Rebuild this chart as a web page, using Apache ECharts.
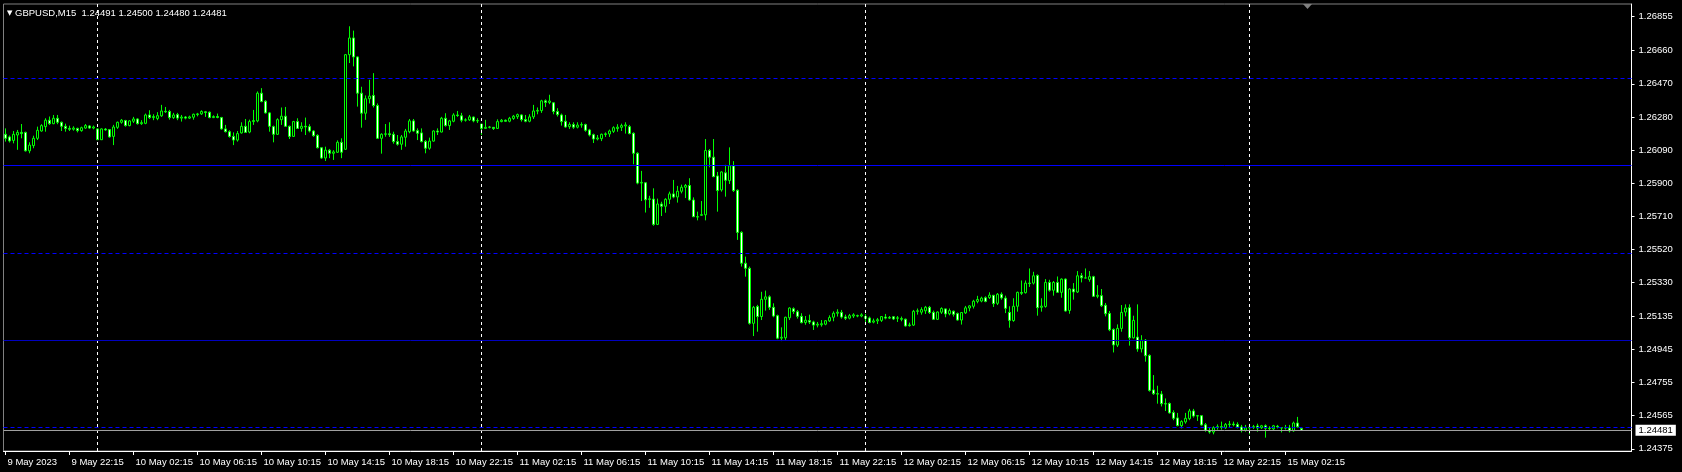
<!DOCTYPE html>
<html>
<head>
<meta charset="utf-8">
<script src="https://cdn.jsdelivr.net/npm/echarts@6/dist/echarts.min.js"></script>
<style>
html,body{margin:0;padding:0;background:#000;}
#chart{width:1682px;height:472px;}
</style>
</head>
<body>
<div id="chart"></div>
<script>
// ---- data (prices stored as points above 1.20000, i.e. 6180 -> 1.26180) ----
const symbol = 'GBPUSD,M15';
const firstBarTime = '2023-05-09T18:15:00Z';

const openPts = [
6180,6165,6145,6176,6191,6191,6085,6115,6157,6199,
6224,6261,6241,6272,6249,6226,6214,6209,6214,6201,
6216,6228,6216,6211,6149,6210,6207,6168,6220,6249,
6259,6230,6255,6268,6241,6243,6291,6276,6271,6286,
6312,6311,6276,6293,6273,6279,6273,6278,6293,6297,
6309,6307,6276,6282,6276,6211,6195,6168,6147,6188,
6226,6193,6253,6257,6416,6370,6303,6224,6180,6264,
6284,6226,6168,6253,6214,6226,6224,6199,6174,6103,
6044,6089,6071,6077,6134,6094,6637,6733,6624,6416,
6301,6384,6403,6345,6157,6180,6183,6180,6138,6123,
6163,6195,6257,6201,6188,6139,6100,6141,6199,6193,
6272,6230,6255,6291,6286,6261,6263,6279,6257,6238,
6214,6220,6220,6214,6253,6261,6255,6271,6281,6291,
6265,6255,6280,6313,6316,6372,6363,6361,6311,6291,
6255,6224,6236,6221,6233,6236,6205,6178,6153,6155,
6179,6182,6197,6213,6220,6228,6224,6186,6071,5900,
5902,5806,5808,5663,5780,5767,5807,5838,5820,5853,
5876,5886,5803,5707,5715,5718,6087,6049,5941,5861,
5959,5914,5999,5859,5617,5440,5411,5095,5191,5134,
5233,5247,5187,5139,5010,5012,5127,5179,5162,5135,
5100,5111,5103,5085,5087,5090,5109,5130,5153,5158,
5132,5125,5137,5139,5137,5134,5126,5102,5109,5112,
5131,5125,5133,5124,5122,5119,5082,5085,5164,5159,
5167,5187,5158,5118,5159,5178,5150,5165,5151,5114,
5155,5183,5193,5221,5223,5242,5243,5256,5210,5262,
5240,5158,5111,5193,5272,5271,5326,5326,5370,5187,
5192,5330,5285,5330,5273,5349,5169,5292,5275,5368,
5355,5347,5363,5250,5254,5199,5152,5060,4970,5066,
5160,5185,5012,5016,4948,4998,4911,4713,4691,4689,
4634,4635,4583,4552,4508,4529,4548,4592,4563,4565,
4513,4480,4471,4497,4502,4496,4514,4517,4515,4500,
4482,4495,4498,4506,4496,4507,4493,4489,4504,4496,
4494,4494,4478,4523,4491
];
const closePts = [
6157,6142,6180,6191,6184,6085,6118,6157,6203,6230,
6261,6241,6272,6249,6226,6214,6209,6216,6201,6218,
6230,6216,6222,6149,6211,6205,6165,6222,6249,6261,
6230,6257,6268,6241,6247,6291,6276,6282,6287,6314,
6309,6276,6291,6273,6279,6273,6280,6295,6297,6311,
6305,6276,6282,6277,6211,6195,6168,6147,6184,6226,
6191,6253,6259,6416,6368,6303,6226,6180,6264,6284,
6226,6168,6253,6214,6226,6222,6199,6172,6103,6044,
6089,6071,6079,6134,6077,6637,6733,6624,6416,6301,
6384,6399,6345,6157,6180,6183,6178,6138,6123,6165,
6199,6257,6199,6186,6138,6100,6141,6199,6193,6272,
6230,6257,6291,6288,6261,6263,6280,6257,6259,6214,
6220,6222,6213,6253,6261,6255,6272,6284,6293,6264,
6255,6280,6314,6317,6372,6363,6371,6311,6293,6253,
6222,6236,6221,6233,6236,6203,6176,6153,6159,6180,
6183,6199,6218,6221,6230,6234,6184,6071,5900,5904,
5804,5810,5663,5780,5767,5807,5838,5820,5853,5876,
5886,5803,5707,5705,5719,6087,6049,5937,5857,5964,
5916,5999,5857,5617,5440,5411,5095,5187,5134,5233,
5247,5187,5137,5010,5015,5130,5183,5163,5135,5099,
5113,5102,5085,5090,5093,5110,5128,5153,5159,5131,
5124,5139,5144,5137,5144,5124,5100,5109,5116,5134,
5125,5129,5120,5127,5119,5080,5086,5164,5167,5174,
5187,5157,5118,5160,5180,5149,5168,5147,5114,5157,
5184,5195,5222,5232,5240,5221,5257,5208,5262,5241,
5181,5112,5193,5273,5268,5326,5324,5368,5185,5194,
5330,5285,5330,5273,5349,5166,5292,5275,5368,5356,
5356,5363,5250,5256,5196,5150,5058,4971,5066,5158,
5183,5012,5112,4948,4998,4909,4710,4691,4689,4634,
4632,4581,4550,4508,4531,4550,4592,4563,4565,4512,
4481,4471,4496,4502,4498,4514,4517,4513,4500,4482,
4495,4498,4502,4494,4507,4493,4491,4507,4500,4494,
4496,4478,4523,4501,4481
];
const lowPts = [
6138,6133,6128,6091,6157,6081,6071,6100,6147,6195,
6195,6234,6238,6238,6199,6195,6199,6201,6191,6195,
6211,6211,6209,6147,6147,6201,6161,6118,6211,6241,
6224,6226,6245,6236,6234,6238,6268,6261,6261,6280,
6303,6264,6268,6261,6253,6266,6268,6264,6283,6291,
6280,6272,6273,6272,6207,6191,6161,6118,6138,6184,
6188,6186,6234,6249,6364,6299,6195,6134,6176,6234,
6222,6153,6165,6211,6195,6176,6191,6166,6099,6039,
6027,6043,6033,6073,6043,6091,6589,6570,6339,6218,
6263,6357,6334,6153,6069,6166,6165,6126,6115,6091,
6109,6186,6195,6147,6134,6071,6091,6138,6176,6191,
6224,6205,6249,6280,6249,6253,6257,6249,6245,6176,
6211,6214,6205,6211,6249,6251,6249,6263,6268,6253,
6249,6249,6268,6295,6303,6337,6353,6295,6282,6230,
6218,6211,6211,6214,6218,6195,6168,6130,6145,6141,
6165,6165,6188,6195,6199,6184,6180,6008,5893,5797,
5731,5758,5655,5659,5711,5730,5780,5813,5788,5841,
5814,5799,5705,5686,5711,5686,5991,5934,5736,5851,
5822,5895,5849,5574,5421,5363,5088,5022,5047,5114,
5168,5172,5130,5004,4993,5000,5114,5149,5122,5095,
5087,5091,5057,5072,5076,5084,5103,5107,5134,5122,
5114,5118,5126,5130,5130,5103,5095,5095,5091,5103,
5118,5120,5114,5103,5107,5076,5076,5080,5145,5145,
5149,5149,5114,5114,5149,5130,5141,5134,5111,5088,
5149,5164,5180,5210,5216,5216,5235,5189,5200,5231,
5154,5070,5104,5162,5258,5266,5304,5318,5139,5162,
5185,5277,5254,5269,5242,5162,5150,5231,5269,5330,
5353,5334,5246,5239,5189,5135,5050,4928,4959,5047,
5135,4967,5008,4932,4928,4875,4703,4684,4634,4618,
4592,4577,4539,4504,4492,4519,4539,4554,4535,4508,
4473,4462,4458,4485,4485,4489,4496,4504,4492,4469,
4473,4458,4489,4473,4489,4439,4481,4481,4492,4469,
4485,4469,4473,4496,4480
];
const highPts = [
6214,6173,6199,6205,6239,6195,6134,6172,6224,6238,
6272,6282,6291,6291,6253,6241,6230,6226,6218,6224,
6239,6233,6230,6214,6214,6216,6209,6234,6253,6268,
6263,6261,6280,6272,6261,6299,6318,6295,6307,6349,
6337,6320,6303,6303,6291,6285,6287,6299,6303,6318,
6314,6311,6289,6299,6280,6234,6203,6191,6199,6249,
6268,6264,6320,6426,6445,6376,6307,6230,6272,6334,
6337,6230,6257,6272,6249,6276,6238,6203,6180,6105,
6109,6096,6089,6145,6157,6641,6800,6775,6627,6453,
6403,6493,6531,6357,6186,6239,6249,6195,6176,6176,
6211,6268,6268,6214,6214,6147,6161,6203,6214,6280,
6301,6263,6301,6314,6303,6272,6291,6282,6272,6241,
6263,6228,6222,6266,6268,6265,6280,6291,6299,6295,
6291,6295,6349,6334,6378,6380,6407,6365,6330,6299,
6291,6249,6249,6249,6249,6241,6211,6184,6176,6184,
6191,6207,6226,6238,6241,6249,6234,6191,6077,5970,
5904,5827,5870,5811,5793,5813,5851,5918,5884,5891,
5895,5928,5818,5736,5797,6153,6095,6153,5964,5968,
6005,6105,6026,5864,5624,5478,5421,5195,5201,5276,
5283,5256,5210,5145,5072,5133,5187,5187,5172,5153,
5137,5145,5110,5103,5114,5114,5141,5164,5176,5172,
5145,5149,5153,5145,5153,5149,5134,5122,5126,5137,
5149,5137,5137,5137,5134,5122,5099,5172,5180,5187,
5195,5195,5168,5164,5187,5180,5180,5168,5157,5160,
5195,5199,5230,5253,5248,5250,5273,5258,5269,5273,
5254,5193,5239,5277,5341,5341,5410,5391,5376,5239,
5349,5345,5338,5364,5353,5353,5296,5326,5395,5384,
5410,5395,5368,5314,5292,5212,5166,5066,5089,5200,
5204,5204,5139,5204,5027,5005,4917,4798,4737,4707,
4664,4641,4596,4581,4539,4581,4604,4604,4569,4566,
4523,4496,4504,4515,4531,4523,4535,4531,4527,4512,
4512,4519,4512,4519,4512,4515,4504,4512,4512,4500,
4512,4512,4531,4558,4500
];

// right price-scale tick labels
const priceTicks = [1.26855,1.26660,1.26470,1.26280,1.26090,1.25900,1.25710,1.25520,1.25330,1.25135,1.24945,1.24755,1.24565,1.24375];
// horizontal levels drawn on the chart
const dashedLevels = [1.26500, 1.25500, 1.24500];
const solidLevels = [1.26000, 1.25000];
const solidColors = ['#0000ff', '#0000c0'];
const monthNames = ['Jan','Feb','Mar','Apr','May','Jun','Jul','Aug','Sep','Oct','Nov','Dec'];

// ---- build ----
const toPrice = v => (120000 + v) / 100000;
const nBars = openPts.length;
const totalSlots = 407;           // visible bar slots incl. chart shift area
const pad2 = n => (n < 10 ? '0' : '') + n;

const times = [];
let t = Date.parse(firstBarTime);
while (times.length < nBars) {
  const d = new Date(t);
  const wd = d.getUTCDay();
  if (wd !== 0 && wd !== 6) times.push(d);
  t += 15 * 60000;
}
const cats = times.map((d, i) => i === 0
  ? d.getUTCDate() + ' ' + monthNames[d.getUTCMonth()] + ' ' + d.getUTCFullYear()
  : d.getUTCDate() + ' ' + monthNames[d.getUTCMonth()] + ' ' + pad2(d.getUTCHours()) + ':' + pad2(d.getUTCMinutes()));
while (cats.length < totalSlots) cats.push('');

const candles = openPts.map((o, i) => [toPrice(o), toPrice(closePts[i]), toPrice(lowPts[i]), toPrice(highPts[i])]);
const last = candles[nBars - 1];

const separators = [];
times.forEach((d, i) => { if (d.getUTCHours() === 0 && d.getUTCMinutes() === 0) separators.push(cats[i]); });

const FONT = 'Liberation Sans';
const markData = [];
separators.forEach(c => markData.push({ xAxis: c, lineStyle: { color: '#ffffff', type: [3, 3], width: 1 }, label: { show: false } }));
dashedLevels.forEach(v => markData.push({ yAxis: v, lineStyle: { color: '#0000ff', type: [4, 3], width: 1 }, label: { show: false } }));
solidLevels.forEach((v, k) => markData.push({ yAxis: v, lineStyle: { color: solidColors[k], type: 'solid', width: 1 }, label: { show: false } }));
markData.push({
  yAxis: last[1],
  lineStyle: { color: '#a0a0a0', type: 'solid', width: 1 },
  label: { show: true, position: 'end', distance: 4, formatter: last[1].toFixed(5),
           backgroundColor: '#ffffff', color: '#000000', fontSize: 9.5, fontFamily: FONT, padding: [1, 3, 0, 3] }
});

const chart = echarts.init(document.getElementById('chart'), null, { renderer: 'canvas' });
chart.setOption({
  backgroundColor: '#000000',
  animation: false,
  title: {
    text: '{tri|▼} ' + symbol + '  ' + last[0].toFixed(5) + ' ' + last[3].toFixed(5) + ' ' + last[2].toFixed(5) + ' ' + last[1].toFixed(5),
    left: 7, top: 8, padding: 0,
    textStyle: { color: '#ffffff', fontSize: 9.5, fontWeight: 'normal', fontFamily: FONT,
      rich: { tri: { fontSize: 7, color: '#ffffff', fontFamily: 'DejaVu Sans' } } }
  },
  grid: { left: 3.5, top: 4, width: 4 * totalSlots, height: 447, show: true, borderColor: '#808080', borderWidth: 1, backgroundColor: '#000000' },
  xAxis: {
    type: 'category', data: cats, boundaryGap: true,
    axisLine: { show: true, lineStyle: { color: '#ffffff', width: 1 } },
    axisTick: { show: true, alignWithLabel: true, length: 4, lineStyle: { color: '#ffffff' },
      interval: (idx, val) => val !== '' && idx % 16 === 0 },
    axisLabel: { show: true, color: '#ffffff', fontSize: 9.5, fontFamily: FONT, align: 'left', margin: 6, padding: [0, 0, 0, 2],
      interval: (idx, val) => val !== '' && idx % 16 === 0 },
    splitLine: { show: false }
  },
  yAxis: {
    type: 'value', position: 'right', scale: true,
    min: 1.243623, max: 1.269279,
    axisLine: { show: true, lineStyle: { color: '#ffffff', width: 1 } },
    axisTick: { show: true, length: 3, lineStyle: { color: '#ffffff' }, customValues: priceTicks },
    axisLabel: { show: true, color: '#ffffff', fontSize: 9.5, fontFamily: FONT, margin: 7, customValues: priceTicks,
      formatter: v => v.toFixed(5) },
    splitLine: { show: false }
  },
  series: [{
    type: 'candlestick',
    data: candles,
    barWidth: 2,
    itemStyle: { color: '#000000', color0: '#ffffff', borderColor: '#00ff00', borderColor0: '#00ff00', borderWidth: 1 },
    markLine: { silent: true, symbol: 'none', animation: false, precision: 5, data: markData }
  }],
  graphic: [{
    type: 'polygon', silent: true,
    shape: { points: [[1303, 4], [1312, 4], [1307.5, 9]] },
    style: { fill: '#7f7f7f' }
  }]
});
</script>
</body>
</html>
